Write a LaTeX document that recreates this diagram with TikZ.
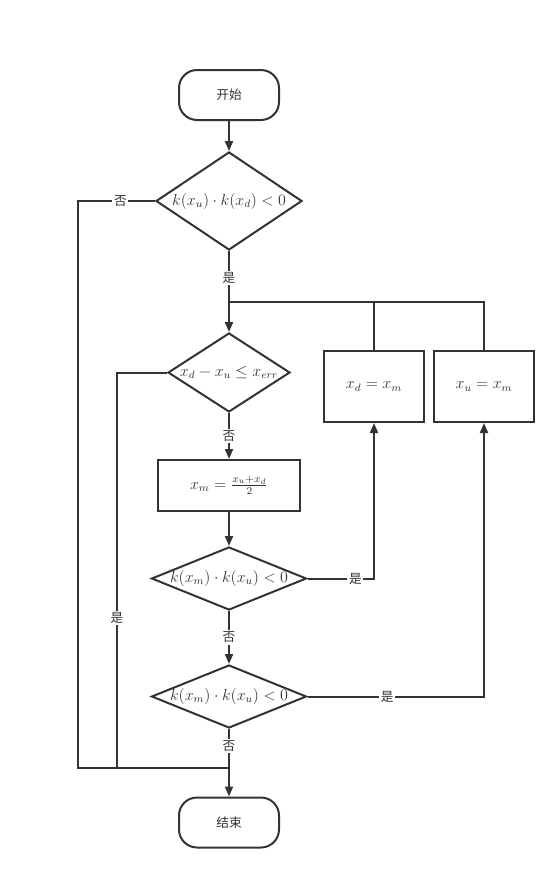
\documentclass[tikz,border=0pt]{standalone}
\usepackage{fontspec}
\newfontfamily\cjk{Noto Sans CJK SC}
\usetikzlibrary{arrows.meta,shapes.geometric}
\newcommand\pxu{0.75pt}
\definecolor{ln}{HTML}{333333}
\begin{document}
\begin{tikzpicture}[x=0.75pt,y=-0.75pt,
  term/.style={draw=ln, line width=1.5pt, rounded corners=18*\pxu, minimum width=100*\pxu, minimum height=50*\pxu, text=ln, font=\cjk\fontsize{9.5}{11}\selectfont},
  dia/.style={draw=ln, line width=1.5pt, diamond, inner sep=0pt},
  proc/.style={draw=ln, line width=1.5pt, rectangle, inner sep=0pt, text=ln, font=\fontsize{11.8}{14}\selectfont},
  mtext/.style={text=ln, inner sep=0pt, font=\fontsize{11.8}{14}\selectfont},
  con/.style={draw=ln, line width=1.5pt},
  arr/.style={con, -{Triangle[length=7.5pt,width=6pt]}},
  lab/.style={fill=white, inner sep=1.2pt, text=ln, font=\cjk\fontsize{9.5}{11}\selectfont}]
\useasboundingbox (0,0) rectangle (559,893);
% nodes
\node[term] (st) at (229,95) {开始};
\node[dia, minimum width=146*\pxu, minimum height=98*\pxu] (d1) at (229,201) {};
\node[mtext] (t1) at (d1) {$k(x_u)\cdot k(x_d)<0$};
\node[dia, minimum width=122*\pxu, minimum height=79*\pxu] (d2) at (229,372.5) {};
\node[mtext] (t2) at (d2) {$x_d-x_u\le x_{err}$};
\node[proc, minimum width=142*\pxu, minimum height=51*\pxu] (bm) at (229,485.5) {$x_m=\frac{x_u+x_d}{2}$};
\node[dia, minimum width=155*\pxu, minimum height=63*\pxu] (d3) at (229,578.5) {};
\node[mtext] (t3) at (d3) {$k(x_m)\cdot k(x_u)<0$};
\node[dia, minimum width=155*\pxu, minimum height=63*\pxu] (d4) at (229,696.5) {};
\node[mtext] (t4) at (d4) {$k(x_m)\cdot k(x_u)<0$};
\node[proc, minimum width=100*\pxu, minimum height=71*\pxu] (bd) at (374,386.5) {$x_d=x_m$};
\node[proc, minimum width=100*\pxu, minimum height=71*\pxu] (bu) at (484,386.5) {$x_u=x_m$};
\node[term] (en) at (229,822.5) {结束};
% coordinates
\coordinate (j1) at (229,302);
\coordinate (j2) at (229,768);
\coordinate (L1) at (78,768);
\coordinate (L2) at (117,768);
% connectors
\draw[arr] (st.south) -- (d1.north);
\draw[arr] (d1.south) -- node[lab,pos=0.33]{是} (d2.north);
\draw[con] (bd.north) |- (j1);
\draw[con] (bu.north) |- (bd.north |- j1);
\draw[con] (d1.west) -| node[lab,pos=0.225]{否} (L1) -- (j2);
\draw[con] (d2.west) -| node[lab,pos=0.81]{是} (L2);
\draw[arr] (d2.south) -- node[lab,pos=0.5]{否} (bm.north);
\draw[arr] (bm.south) -- (d3.north);
\draw[arr] (d3.east) -| node[lab,pos=0.36]{是} (bd.south);
\draw[arr] (d3.south) -- node[lab,pos=0.5]{否} (d4.north);
\draw[arr] (d4.east) -| node[lab,pos=0.226]{是} (bu.south);
\draw[arr] (d4.south) -- node[lab,pos=0.25]{否} (en.north);
\end{tikzpicture}
\end{document}
